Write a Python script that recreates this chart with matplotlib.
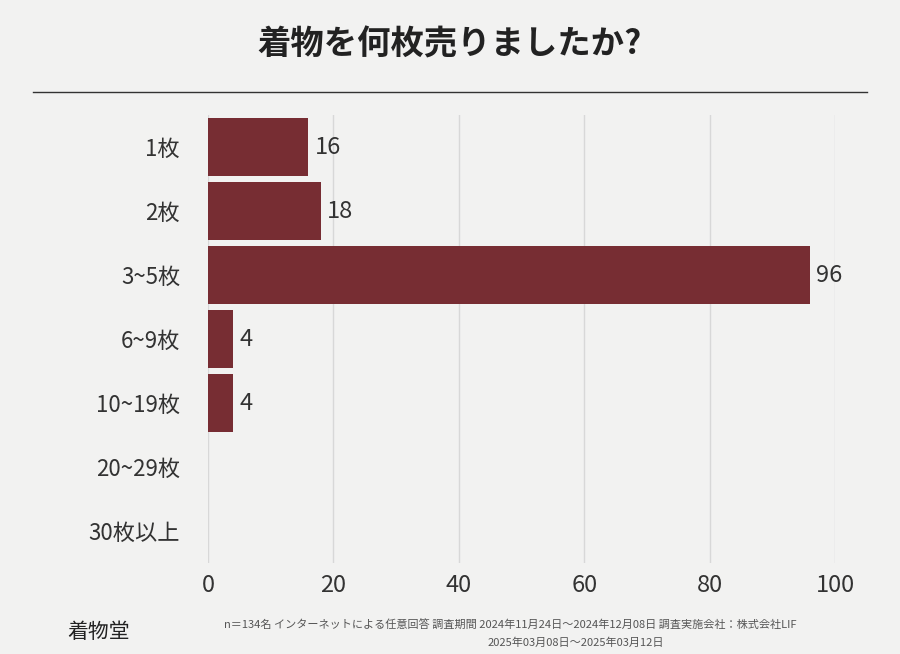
import matplotlib
matplotlib.use("Agg")
import matplotlib.pyplot as plt
from matplotlib.lines import Line2D

categories = ["1枚", "2枚", "3~5枚", "6~9枚", "10~19枚", "20~29枚", "30枚以上"]
values = [16, 18, 96, 4, 4, 0, 0]
xticks = [0, 20, 40, 60, 80, 100]

plt.rcParams["font.family"] = "Noto Sans CJK JP"
fig = plt.figure(figsize=(9, 6.54), dpi=100)
fig.patch.set_facecolor("#f2f2f1")
ax = fig.add_axes([0.231, 0.139, 0.697, 0.685])
ax.set_facecolor("none")
n = len(categories)
ys = list(range(n))
ax.barh(ys, values, height=0.9, color="#772d33", zorder=3)
for y, v in zip(ys, values):
    if v > 0:
        ax.text(v + 1, y, str(v), va="center", ha="left", fontsize=17, color="#333333")
ax.set_ylim(n - 0.5, -0.5)
ax.set_xlim(0, 100)
ax.set_yticks(ys)
ax.set_yticklabels(categories, fontsize=16, color="#333333")
ax.set_xticks(xticks)
ax.set_xticklabels([str(t) for t in xticks], fontsize=17, color="#333333")
ax.tick_params(axis="y", length=0, pad=20)
ax.tick_params(axis="x", length=0, pad=8)
ax.grid(axis="x", color="#d8d8d8", linewidth=1, zorder=0)
for s in ax.spines.values():
    s.set_visible(False)

fig.text(0.5, 0.931, "着物を何枚売りましたか?", ha="center", va="center",
         fontsize=24, fontweight="bold", color="#222222")
fig.add_artist(Line2D([0.037, 0.963], [0.859, 0.859], color="#333333", linewidth=1))
fig.text(0.11, 0.033, "着物堂", ha="center", va="center", fontsize=15, color="#222222")
fig.text(0.567, 0.046,
         "n＝134名 インターネットによる任意回答 調査期間 2024年11月24日～2024年12月08日 調査実施会社：株式会社LIF",
         ha="center", va="center", fontsize=8, color="#555555")
fig.text(0.64, 0.018, "2025年03月08日～2025年03月12日",
         ha="center", va="center", fontsize=8, color="#555555")
fig.savefig("out.png", dpi=100, facecolor=fig.get_facecolor())
